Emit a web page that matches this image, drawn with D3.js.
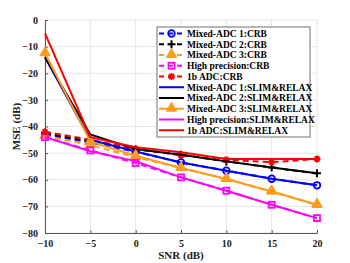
<!DOCTYPE html>
<html>
<head>
<meta charset="utf-8">
<script src="https://cdn.jsdelivr.net/npm/d3@7"></script>
<style>
  body { margin: 0; background: #fff; }
  text { font-family: "Liberation Serif", "Times New Roman", serif; font-weight: bold; }
</style>
</head>
<body>
<div id="chart"></div>
<script>
// SNR points (dB)
var snr = [-10, -5, 0, 5, 10, 15, 20];

// CRB curves (dashed)
var crbMixed1 = [-43, -46, -49.5, -53.5, -56.6, -59.6, -62.1];
var crbMixed2 = [-42.5, -45.5, -48.5, -50.6, -53.1, -55.4, -57.6];
var crbMixed3 = [-43.5, -47, -51.5, -55.6, -59.7, -64.4, -69.4];
var crbHigh   = [-44, -49, -53.7, -59.1, -64.1, -69.4, -74.4];
var crb1b     = [-42, -45, -48.5, -50.8, -52.5, -53.4, -52.2];

// SLIM&RELAX curves (solid)
var slimMixed1 = [-14, -45, -49.4, -53.5, -56.6, -59.6, -62.1];
var slimMixed2 = [-14, -43, -48.5, -50.6, -53.1, -55.4, -57.6];
var slimMixed3 = [-12.5, -45.6, -51, -55.6, -59.7, -64.4, -69.4];
var slimHigh   = [-44, -49.3, -53, -59.1, -64.1, -69.4, -74.4];
var slim1b     = [-5, -44, -47.8, -49.7, -52.2, -52.2, -52.2];

var xTicks = [-10, -5, 0, 5, 10, 15, 20];
var yTicks = [0, -10, -20, -30, -40, -50, -60, -70, -80];

var series = [
  { name: "Mixed-ADC 1:CRB", values: crbMixed1, color: "#0000ff", dash: true, marker: "circle" },
  { name: "Mixed-ADC 2:CRB", values: crbMixed2, color: "#000000", dash: true, marker: "plus" },
  { name: "Mixed-ADC 3:CRB", values: crbMixed3, color: "#ff9a1a", dash: true, marker: "triangle" },
  { name: "High precision:CRB", values: crbHigh, color: "#ff00ff", dash: true, marker: "square" },
  { name: "1b ADC:CRB", values: crb1b, color: "#ff0000", dash: true, marker: "star" },
  { name: "Mixed-ADC 1:SLIM&RELAX", values: slimMixed1, color: "#0000ff", dash: false, marker: null },
  { name: "Mixed-ADC 2:SLIM&RELAX", values: slimMixed2, color: "#000000", dash: false, marker: null },
  { name: "Mixed-ADC 3:SLIM&RELAX", values: slimMixed3, color: "#ff9a1a", dash: false, marker: "triangle" },
  { name: "High precision:SLIM&RELAX", values: slimHigh, color: "#ff00ff", dash: false, marker: null },
  { name: "1b ADC:SLIM&RELAX", values: slim1b, color: "#ff0000", dash: false, marker: null }
];

var width = 350, height = 263;
var margin = { top: 20, right: 33, bottom: 30, left: 45 };
var w = width - margin.left - margin.right;
var h = height - margin.top - margin.bottom;

var svg = d3.select("#chart").append("svg")
  .attr("width", width)
  .attr("height", height);

var g = svg.append("g").attr("transform", "translate(" + margin.left + "," + margin.top + ")");

var x = d3.scaleLinear().domain([-10, 20]).range([0, w]);
var y = d3.scaleLinear().domain([-80, 0]).range([h, 0]);

// grid
g.append("g").selectAll("line").data(xTicks).enter().append("line")
  .attr("x1", function(d) { return x(d); }).attr("x2", function(d) { return x(d); })
  .attr("y1", 0).attr("y2", h)
  .attr("stroke", "#e6e6e6").attr("stroke-width", 1);
g.append("g").selectAll("line").data(yTicks).enter().append("line")
  .attr("x1", 0).attr("x2", w)
  .attr("y1", function(d) { return y(d); }).attr("y2", function(d) { return y(d); })
  .attr("stroke", "#e6e6e6").attr("stroke-width", 1);

// axes (ticks inside, matlab style)
var xAxis = g.append("g").attr("transform", "translate(0," + h + ")")
  .call(d3.axisBottom(x).tickValues(xTicks).tickSizeInner(-3).tickSizeOuter(0).tickPadding(7));
var yAxis = g.append("g")
  .call(d3.axisLeft(y).tickValues(yTicks).tickSizeInner(-3).tickSizeOuter(0).tickPadding(7));
[xAxis, yAxis].forEach(function(a) {
  a.select(".domain").attr("stroke", "#555").attr("stroke-width", 1);
  a.selectAll(".tick line").attr("stroke", "#555");
  a.selectAll(".tick text").attr("fill", "#222").style("font-size", "10px")
    .style("font-family", "Liberation Serif").style("font-weight", "bold");
});

// lines
var line = d3.line()
  .x(function(d, i) { return x(snr[i]); })
  .y(function(d) { return y(d); });

var plot = g.append("g");

function drawMarker(sel, type, color, cx, cy) {
  if (type === "circle") {
    sel.append("circle").attr("cx", cx).attr("cy", cy).attr("r", 3.3)
      .attr("fill", "none").attr("stroke", color).attr("stroke-width", 1.8);
  } else if (type === "plus") {
    sel.append("path").attr("d", "M" + (cx - 4) + "," + cy + "H" + (cx + 4) + "M" + cx + "," + (cy - 4) + "V" + (cy + 4))
      .attr("stroke", color).attr("stroke-width", 2);
  } else if (type === "triangle") {
    sel.append("path").attr("d", d3.symbol().type(d3.symbolTriangle).size(45)())
      .attr("transform", "translate(" + cx + "," + (cy - 0.5) + ")")
      .attr("fill", color).attr("stroke", color).attr("stroke-width", 1);
  } else if (type === "square") {
    sel.append("rect").attr("x", cx - 3).attr("y", cy - 3).attr("width", 6).attr("height", 6)
      .attr("fill", "none").attr("stroke", color).attr("stroke-width", 1.8);
  } else if (type === "star") {
    sel.append("path").attr("d",
      "M" + (cx - 3.5) + "," + cy + "H" + (cx + 3.5) +
      "M" + cx + "," + (cy - 3.5) + "V" + (cy + 3.5) +
      "M" + (cx - 2.5) + "," + (cy - 2.5) + "L" + (cx + 2.5) + "," + (cy + 2.5) +
      "M" + (cx - 2.5) + "," + (cy + 2.5) + "L" + (cx + 2.5) + "," + (cy - 2.5))
      .attr("stroke", color).attr("stroke-width", 1.8);
  }
}

series.forEach(function(s) {
  plot.append("path")
    .datum(s.values)
    .attr("d", line)
    .attr("fill", "none")
    .attr("stroke", s.color)
    .attr("stroke-width", 2)
    .attr("stroke-dasharray", s.dash ? "6,4" : null);
  if (s.marker) {
    s.values.forEach(function(v, i) {
      drawMarker(plot, s.marker, s.color, x(snr[i]), y(v));
    });
  }
});

// legend
var lg = svg.append("g").attr("transform", "translate(157,27)");
var rowH = 10.75;
lg.append("rect").attr("x", 0).attr("y", 0).attr("width", 153).attr("height", 110)
  .attr("fill", "#fff").attr("stroke", "#888").attr("stroke-width", 1.2);
series.forEach(function(s, i) {
  var ry = 6.5 + i * rowH;
  lg.append("line").attr("x1", 2).attr("x2", 27).attr("y1", ry).attr("y2", ry)
    .attr("stroke", s.color).attr("stroke-width", 2)
    .attr("stroke-dasharray", s.dash ? "5,4" : null)
    .attr("stroke-dashoffset", s.dash ? 0 : null);
  if (s.marker) drawMarker(lg, s.marker, s.color, 14.5, ry);
  lg.append("text").attr("x", 30).attr("y", ry).attr("dy", "0.35em")
    .style("font-size", "9.5px").attr("fill", "#000").text(s.name);
});

// axis labels
svg.append("text")
  .attr("x", margin.left + w / 2).attr("y", 259)
  .attr("text-anchor", "middle").style("font-size", "11px").attr("fill", "#222")
  .text("SNR (dB)");
svg.append("text")
  .attr("transform", "translate(20," + (margin.top + h / 2) + ") rotate(-90)")
  .attr("text-anchor", "middle").style("font-size", "11px").attr("fill", "#222")
  .text("MSE (dB)");
</script>
</body>
</html>
